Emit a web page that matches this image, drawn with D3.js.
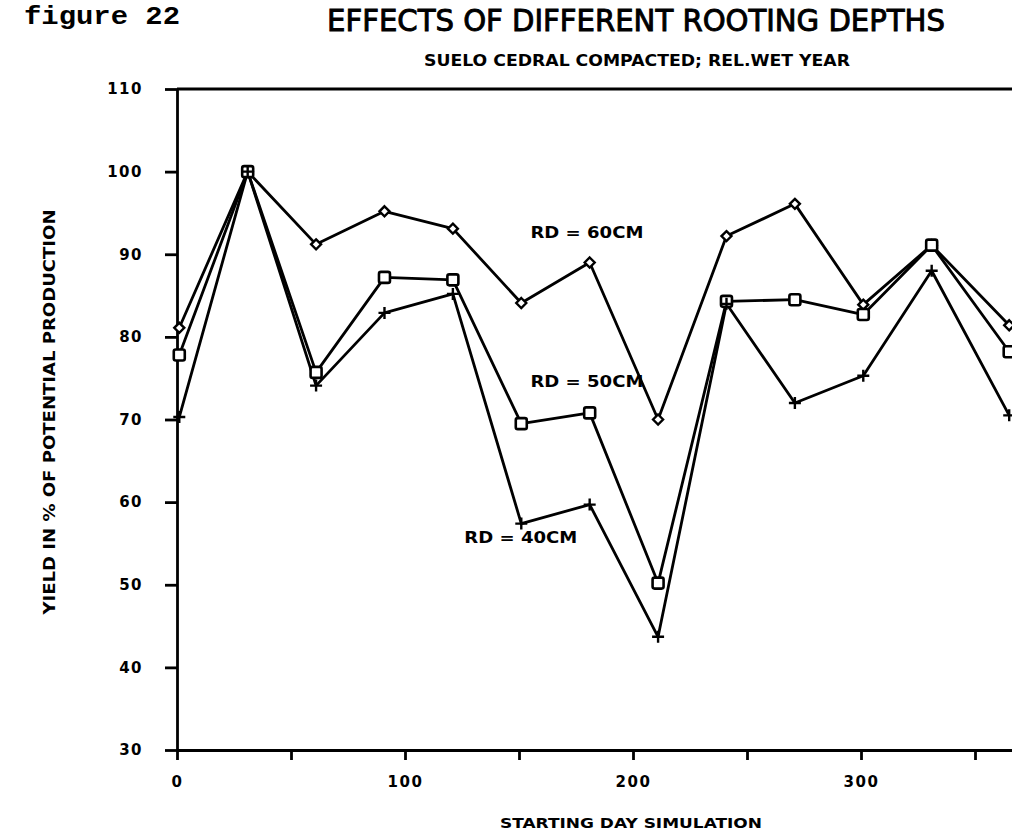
<!DOCTYPE html>
<html>
<head>
<meta charset="utf-8">
<script src="https://cdn.jsdelivr.net/npm/d3@7"></script>
<style>
  html, body { margin: 0; padding: 0; background: #fff; }
  svg { display: block; }
  .tick text { font-family: "DejaVu Sans", sans-serif; font-weight: bold; font-size: 15px; letter-spacing: 1.5px; fill: #000; }
</style>
</head>
<body>
<script>
// Starting day of each simulation run
const startDays = [1, 31, 61, 91, 121, 151, 181, 211, 241, 271, 301, 331, 365];

// Yield in % of potential production for each rooting depth
const rd60 = [81.1, 100, 91.2, 95.2, 93.1, 84.1, 89.0, 70.0, 92.2, 96.1, 83.9, 91.1, 81.4];
const rd50 = [77.8, 100, 75.7, 87.2, 86.9, 69.5, 70.8, 50.2, 84.3, 84.5, 82.7, 91.1, 78.2];
const rd40 = [70.3, 100, 74.1, 82.9, 85.2, 57.4, 59.7, 43.7, 84.0, 72.0, 75.3, 88.0, 70.5];

// Axis ticks
const xTicks = [0, 50, 100, 150, 200, 250, 300, 350];
const xTickLabels = [0, 100, 200, 300];
const yTicks = [30, 40, 50, 60, 70, 80, 90, 100, 110];

// Series labels placed next to their curves: [text, day, yield]
const seriesLabels = [
  ["RD = 60CM", 155, 92.0],
  ["RD = 50CM", 155, 73.9],
  ["RD = 40CM", 126, 55.1]
];

const W = 1012, H = 835;
const svg = d3.select("body").append("svg").attr("width", W).attr("height", H);

const x = d3.scaleLinear().domain([0, 400]).range([177, 1089]);
const y = d3.scaleLinear().domain([30, 110]).range([750, 89]);

const ink = "#000";
const bold = "\"DejaVu Sans\", sans-serif";

// Headings
svg.append("text")
  .attr("x", 24).attr("y", 24)
  .attr("font-family", "\"Liberation Mono\", \"DejaVu Sans Mono\", monospace")
  .attr("font-weight", "bold").attr("font-size", 25)
  .attr("textLength", 156).attr("lengthAdjust", "spacingAndGlyphs")
  .text("figure 22");

svg.append("text")
  .attr("x", 327).attr("y", 31)
  .attr("font-family", "\"DejaVu Sans Condensed\", \"Liberation Sans Narrow\", \"DejaVu Sans\", sans-serif")
  .attr("font-stretch", "condensed")
  .attr("font-size", 31)
  .attr("stroke", ink).attr("stroke-width", 0.9)
  .attr("textLength", 618).attr("lengthAdjust", "spacingAndGlyphs")
  .text("EFFECTS OF DIFFERENT ROOTING DEPTHS");

svg.append("text")
  .attr("x", 424).attr("y", 66)
  .attr("font-family", bold).attr("font-weight", "bold").attr("font-size", 16)
  .attr("textLength", 426).attr("lengthAdjust", "spacingAndGlyphs")
  .text("SUELO CEDRAL COMPACTED; REL.WET YEAR");

// Axes
const xAxis = d3.axisBottom(x)
  .tickValues(xTicks)
  .tickSize(10).tickSizeOuter(0).tickPadding(16)
  .tickFormat(d => xTickLabels.includes(d) ? d : "");
const gx = svg.append("g").attr("transform", `translate(0,${y(30)})`).call(xAxis);

const yAxis = d3.axisLeft(y)
  .tickValues(yTicks)
  .tickSize(12).tickSizeOuter(0).tickPadding(22);
const gy = svg.append("g").attr("transform", `translate(${x(0)},0)`).call(yAxis);

[gx, gy].forEach(g => {
  g.select(".domain").attr("stroke", ink).attr("stroke-width", 2.8);
  g.selectAll(".tick line").attr("stroke", ink).attr("stroke-width", 2.8);
});

// Top frame line
svg.append("line")
  .attr("x1", x(0)).attr("x2", x(400))
  .attr("y1", y(110)).attr("y2", y(110))
  .attr("stroke", ink).attr("stroke-width", 2.8);

// Axis titles
svg.append("text")
  .attr("x", 500).attr("y", 828)
  .attr("font-family", bold).attr("font-weight", "bold").attr("font-size", 14)
  .attr("textLength", 262).attr("lengthAdjust", "spacingAndGlyphs")
  .text("STARTING DAY SIMULATION");

svg.append("text")
  .attr("transform", "translate(55,412) rotate(-90)")
  .attr("text-anchor", "middle")
  .attr("font-family", bold).attr("font-weight", "bold").attr("font-size", 15)
  .attr("textLength", 405).attr("lengthAdjust", "spacingAndGlyphs")
  .text("YIELD IN % OF POTENTIAL PRODUCTION");

// Curves
const series = [
  { name: "rd60", values: rd60, marker: "diamond" },
  { name: "rd50", values: rd50, marker: "square" },
  { name: "rd40", values: rd40, marker: "plus" }
];

const line = d3.line().x(d => x(d[0])).y(d => y(d[1]));

series.forEach(s => {
  const pts = startDays.map((d, i) => [d, s.values[i]]);
  svg.append("path")
    .datum(pts)
    .attr("fill", "none")
    .attr("stroke", ink)
    .attr("stroke-width", 2.8)
    .attr("stroke-linejoin", "round")
    .attr("d", line);
});

// Markers
series.forEach(s => {
  const pts = startDays.map((d, i) => [d, s.values[i]]);
  const g = svg.append("g");
  pts.forEach(p => {
    const cx = x(p[0]), cy = y(p[1]);
    if (s.marker === "diamond") {
      g.append("path")
        .attr("d", `M${cx},${cy - 5} L${cx + 5},${cy} L${cx},${cy + 5} L${cx - 5},${cy} Z`)
        .attr("fill", "#fff").attr("stroke", ink).attr("stroke-width", 2.4);
    } else if (s.marker === "square") {
      g.append("rect")
        .attr("x", cx - 5.5).attr("y", cy - 5.5).attr("width", 11).attr("height", 11)
        .attr("rx", 2)
        .attr("fill", "#fff").attr("stroke", ink).attr("stroke-width", 2.6);
    } else {
      g.append("path")
        .attr("d", `M${cx - 6},${cy} L${cx + 6},${cy} M${cx},${cy - 6} L${cx},${cy + 6}`)
        .attr("stroke", ink).attr("stroke-width", 2.4);
    }
  });
});

// Series labels
seriesLabels.forEach(([t, d, v]) => {
  svg.append("text")
    .attr("x", x(d)).attr("y", y(v))
    .attr("font-family", bold).attr("font-weight", "bold").attr("font-size", 15)
    .attr("textLength", 113).attr("lengthAdjust", "spacingAndGlyphs")
    .text(t);
});
</script>
</body>
</html>
